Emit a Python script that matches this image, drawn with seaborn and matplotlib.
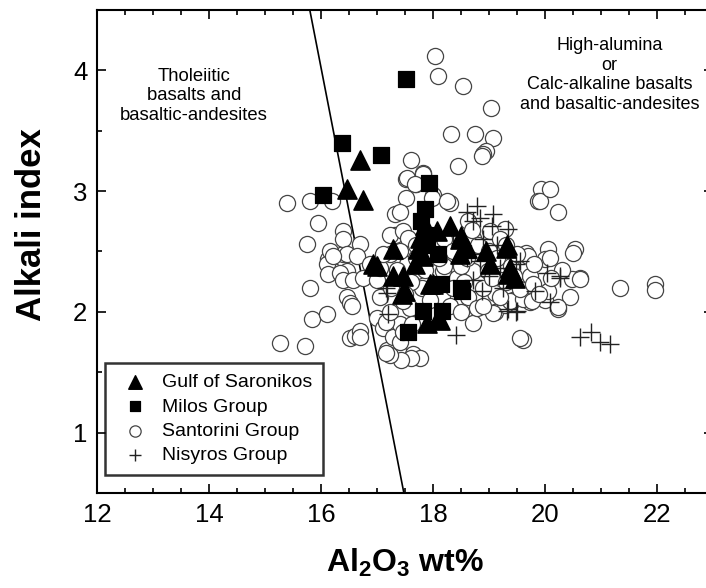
import seaborn as sns
import pandas as pd
import matplotlib.pyplot as plt
from matplotlib.ticker import MultipleLocator

# data (Al2O3 wt%, alkali index)
saronikos_al = [16.70, 16.46, 16.75, 17.29, 18.07, 17.77, 18.30, 18.50, 17.73, 17.68,
                18.95, 19.30, 19.02, 19.38, 16.93, 17.29, 17.46, 18.00, 17.50, 17.82,
                17.95, 17.45, 17.89, 18.09, 18.48, 19.34, 19.46, 18.12, 18.48, 18.60,
                19.32, 17.00, 17.85]
saronikos_ai = [3.26, 3.02, 2.93, 2.52, 2.67, 2.61, 2.71, 2.63, 2.52, 2.40,
                2.50, 2.53, 2.40, 2.36, 2.40, 2.30, 2.30, 2.23, 2.17, 2.46,
                2.23, 2.15, 1.91, 1.95, 2.48, 2.31, 2.28, 1.93, 2.60, 2.53,
                2.55, 2.38, 2.72]

milos_al = [17.52, 16.38, 16.04, 17.07, 17.93, 17.86, 17.79, 17.86, 18.09, 18.50,
            18.14, 17.82, 18.16, 17.55, 18.52, 17.90]
milos_ai = [3.93, 3.40, 2.97, 3.30, 3.07, 2.85, 2.75, 2.64, 2.48, 2.20,
            2.23, 2.01, 2.01, 1.83, 2.17, 2.55]

santorini_al = [18.04, 18.09, 18.54, 19.04, 18.32, 18.75, 19.07, 18.95, 18.89, 17.61,
                18.45, 17.52, 17.82, 17.70, 17.52, 18.00, 18.30, 17.32, 19.93, 19.88,
                20.23, 18.63, 19.29, 17.32, 19.66, 20.05, 20.54, 20.00, 20.63, 21.34,
                21.96, 21.96,
                15.39, 15.80, 16.20, 15.95, 15.75, 16.39, 16.13, 16.16, 16.21, 16.39,
                16.46, 15.80, 16.39, 16.70, 16.16, 16.46,
                15.27, 15.71, 15.84, 16.11, 16.52, 16.61, 16.70, 16.46, 16.52, 16.55,
                16.11, 16.13, 16.34, 16.39, 16.57, 16.75, 16.64, 16.21,
                17.00, 17.05, 17.00, 17.11, 17.18, 17.29, 17.41, 17.41, 17.64, 17.77,
                17.59, 17.63, 17.05, 16.88, 17.23, 17.54, 17.71, 18.18,
                17.61, 17.43, 17.23, 17.16, 16.70, 17.41, 17.46, 17.16, 17.23, 17.46,
                18.71, 19.11, 19.29, 19.43, 19.73, 20.00, 20.23, 20.45, 19.61,
                19.55, 19.07, 19.38, 19.61, 19.77, 19.11, 20.05, 20.23, 20.48, 20.63,
                20.09, 20.50, 19.70, 18.43, 18.71, 18.98, 19.23, 19.73, 18.45, 18.63,
                18.79, 19.55, 19.79,
                18.88, 19.91, 20.09, 19.02, 18.71, 19.20,
                17.54, 17.82, 17.68, 17.98, 17.41, 18.25, 17.23, 17.46, 17.55, 17.11,
                17.41,
                17.70, 17.90, 18.00, 18.20, 18.35, 18.50, 18.60, 18.80, 19.00, 19.15,
                19.40, 19.50, 18.20, 18.35, 18.55, 18.90, 19.05, 19.30, 19.45, 18.30,
                18.50, 18.90, 19.20, 17.80, 17.95, 17.60, 17.70, 17.35, 17.25, 17.50,
                17.85, 18.10, 18.70, 19.30, 19.80, 20.30, 20.10, 19.90]
santorini_ai = [4.12, 3.95, 3.87, 3.69, 3.47, 3.47, 3.44, 3.33, 3.31, 3.26,
                3.21, 3.10, 3.15, 3.06, 2.94, 2.97, 2.90, 2.81, 3.02, 2.92,
                2.83, 2.75, 2.69, 2.64, 2.49, 2.52, 2.52, 2.44, 2.28, 2.20,
                2.23, 2.18,
                2.90, 2.92, 2.92, 2.74, 2.56, 2.67, 2.44, 2.36, 2.34, 2.48,
                2.34, 2.20, 2.60, 2.56, 2.50, 2.48,
                1.74, 1.72, 1.94, 1.98, 1.78, 1.80, 1.84, 2.12, 2.07, 2.05,
                2.40, 2.31, 2.32, 2.26, 2.26, 2.28, 2.46, 2.46,
                2.26, 2.12, 1.95, 1.87, 1.68, 1.79, 1.90, 1.65, 1.65, 1.62,
                2.03, 1.90, 2.36, 2.40, 2.48, 2.40, 2.34, 2.34,
                1.62, 1.60, 1.64, 1.66, 1.79, 1.75, 1.83, 1.92, 2.00, 2.09,
                1.91, 2.00, 2.06, 2.10, 2.08, 2.10, 2.02, 2.12, 1.77,
                1.78, 1.99, 2.09, 2.11, 2.09, 2.16, 2.17, 2.04, 2.27, 2.27,
                2.45, 2.49, 2.46, 2.28, 2.34, 2.34, 2.40, 2.30, 2.12, 2.12,
                2.03, 2.19, 2.23,
                3.29, 2.92, 3.02, 2.67, 2.61, 2.60,
                3.11, 3.14, 3.06, 2.94, 2.83, 2.92, 2.64, 2.67, 2.61, 2.48,
                2.50,
                2.55, 2.45, 2.55, 2.60, 2.50, 2.38, 2.45, 2.55, 2.50, 2.45,
                2.38, 2.48, 2.38, 2.20, 2.25, 2.20, 2.28, 2.25, 2.30, 2.05,
                2.00, 2.05, 2.12, 2.20, 2.10, 2.25, 2.45, 2.35, 2.20, 2.15,
                2.35, 2.45, 2.68, 2.55, 2.40, 2.35, 2.28, 2.15]

nisyros_al = [20.63, 20.82, 20.98, 21.16, 18.41, 17.20, 19.34, 19.48, 20.09, 20.04,
              20.27, 19.50, 19.32, 18.71, 18.88, 19.82, 19.55, 18.60, 18.61, 18.79,
              18.84, 19.07, 19.05, 19.34, 18.71, 17.18, 18.36, 19.20, 19.48, 20.27,
              18.84, 18.68, 17.16, 19.00, 19.25, 18.90, 19.15]
nisyros_ai = [1.79, 1.83, 1.75, 1.73, 1.81, 1.98, 2.02, 2.00, 2.08, 2.32,
              2.30, 2.01, 2.01, 2.26, 2.17, 2.17, 2.42, 2.45, 2.83, 2.88,
              2.78, 2.81, 2.71, 2.69, 2.75, 2.16, 2.64, 2.36, 2.40, 2.28,
              2.42, 2.48, 2.20, 2.30, 2.20, 2.60, 2.55]

# boundary line between the two fields
line_al = [15.80, 17.48]
line_ai = [4.5, 0.5]

groups = ['Gulf of Saronikos', 'Milos Group', 'Santorini Group', 'Nisyros Group']

df = pd.concat([
    pd.DataFrame({'al': saronikos_al, 'ai': saronikos_ai, 'group': groups[0]}),
    pd.DataFrame({'al': milos_al, 'ai': milos_ai, 'group': groups[1]}),
    pd.DataFrame({'al': santorini_al, 'ai': santorini_ai, 'group': groups[2]}),
    pd.DataFrame({'al': nisyros_al, 'ai': nisyros_ai, 'group': groups[3]}),
])

sns.set_style('ticks')
plt.rcParams['font.family'] = ['Liberation Sans', 'DejaVu Sans']
plt.rcParams['mathtext.default'] = 'regular'
plt.rcParams['text.color'] = 'black'
plt.rcParams['axes.labelcolor'] = 'black'

fig = plt.figure(figsize=(7.06, 5.88), dpi=100)
ax = fig.add_axes([0.1374, 0.1616, 0.8725, 0.8214])

ax.plot(line_al, line_ai, color='black', lw=1.2, zorder=1)

sub = df[df.group == groups[2]]
sns.scatterplot(data=sub, x='al', y='ai', marker='o', s=135, facecolor='white',
                edgecolor='#444444', linewidth=0.9, label=groups[2], ax=ax, zorder=2)
sub = df[df.group == groups[3]]
sns.scatterplot(data=sub, x='al', y='ai', marker='+', s=170, color='#222222',
                linewidth=1.0, label=groups[3], ax=ax, zorder=3)
sub = df[df.group == groups[1]]
sns.scatterplot(data=sub, x='al', y='ai', marker='s', s=120, color='black',
                edgecolor='black', label=groups[1], ax=ax, zorder=4)
sub = df[df.group == groups[0]]
sns.scatterplot(data=sub, x='al', y='ai', marker='^', s=190, color='black',
                edgecolor='black', label=groups[0], ax=ax, zorder=5)

ax.set_xlim(12, 23)
ax.set_ylim(0.5, 4.5)
ax.xaxis.set_major_locator(MultipleLocator(2))
ax.xaxis.set_minor_locator(MultipleLocator(0.5))
ax.yaxis.set_major_locator(MultipleLocator(1))
ax.yaxis.set_minor_locator(MultipleLocator(0.5))
ax.tick_params(which='both', direction='in', top=True, right=True, width=1.2,
               labelsize=18.5, colors='black')
ax.tick_params(which='major', length=6.5, pad=7)
ax.tick_params(which='minor', length=3.5)
for sp in ax.spines.values():
    sp.set_linewidth(1.5)
    sp.set_color('black')

ax.set_xlabel('Al$_2$O$_3$ wt%', fontsize=23, fontweight='bold')
ax.set_ylabel('Alkali index', fontsize=25, fontweight='bold')
ax.xaxis.set_label_coords(0.5, -0.112)
ax.yaxis.set_label_coords(-0.08, 0.555)

ax.text(13.73, 3.79, 'Tholeiitic\nbasalts and\nbasaltic-andesites', fontsize=13.3,
        ha='center', va='center', multialignment='center')
ax.text(21.15, 3.96, 'High-alumina\nor\nCalc-alkaline basalts\nand basaltic-andesites',
        fontsize=13, ha='center', va='center', multialignment='center')

handles, labels = ax.get_legend_handles_labels()
order = [labels.index(g) for g in groups]
leg = ax.legend([handles[i] for i in order], groups, loc='lower left',
                bbox_to_anchor=(0.013, 0.037), borderaxespad=0, fontsize=14,
                markerscale=0.7, labelspacing=0.35, handletextpad=0.4,
                borderpad=0.55, frameon=True, fancybox=False, edgecolor='black')
leg.get_frame().set_linewidth(1.8)
for t in leg.get_texts():
    t.set_color('black')

fig.savefig('out.png', dpi=100)
